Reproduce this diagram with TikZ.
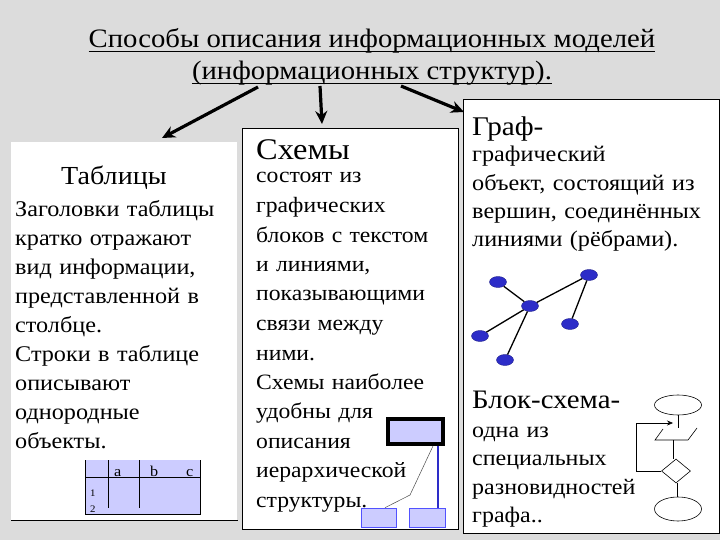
\documentclass[tikz,border=0pt]{standalone}
\usepackage{fontspec}
\setmainfont[FakeStretch=1.08]{Liberation Serif}
\usetikzlibrary{arrows.meta, positioning, shapes.geometric}
\definecolor{bggray}{RGB}{220,220,220}
\definecolor{lavender}{RGB}{204,204,255}
\definecolor{vertexblue}{RGB}{45,45,200}

\begin{document}
\begin{tikzpicture}[
    x=1pt, y=-1pt,
    >={Stealth[length=13pt, width=12pt]},
    panel/.style={fill=white, anchor=north west, inner sep=0pt, line width=0.8pt},
    head/.style={anchor=base west, inner sep=0pt},
    body/.style={anchor=base west, inner sep=0pt, align=left, text width=240pt},
    bigarrow/.style={->, line width=3.2pt},
    vertex/.style={ellipse, fill=vertexblue, draw=vertexblue!70!black, minimum width=17pt, minimum height=11pt, inner sep=0pt},
    block/.style={draw=blue!60!lavender, fill=lavender, inner sep=0pt, line width=0.6pt},
    flow/.style={draw, line width=0.6pt, inner sep=0pt},
]
    % background
    \useasboundingbox (0,0) rectangle (720,540);
    \fill[bggray] (0,0) rectangle (720,540);

    % Title
    \node[anchor=base, inner sep=0pt, font=\fontsize{26.6}{30}\selectfont] (t1) at (372,48) {Способы описания информационных моделей};
    \node[anchor=base, inner sep=0pt, font=\fontsize{26.6}{30}\selectfont] (t2) at (372,80) {(информационных структур).};
    \draw[line width=1pt] ([yshift=-4pt]t1.base west) -- ([yshift=-4pt]t1.base east);
    \draw[line width=1pt] ([yshift=-4pt]t2.base west) -- ([yshift=-4pt]t2.base east);

    % Panels
    \node[panel, minimum width=226pt, minimum height=378pt] (pl) at (11,142) {};
    \draw[line width=1pt] (pl.south west) -- (pl.south east);
    \node[panel, draw, minimum width=216pt, minimum height=401pt] (pm) at (242,128) {};
    \node[panel, draw, minimum width=256pt, minimum height=434pt] (pr) at (463,99) {};

    % Arrows from the title
    \coordinate (a1s) at (258,87);
    \coordinate (a1e) at (162,138);
    \coordinate (a2s) at (320,86);
    \coordinate (a2e) at (322,124);
    \coordinate (a3s) at (401,86);
    \coordinate (a3e) at (464,112);
    \draw[bigarrow] (a1s) -- (a1e);
    \draw[bigarrow] (a2s) -- (a2e);
    \draw[bigarrow] (a3s) -- (a3e);

    % Left panel: tables
    \node[head, font=\fontsize{26}{30}\selectfont] (hl) at (61,185) {Таблицы};
    \node[body, font=\fontsize{22.4}{28.9}\selectfont] (bl) at (15,217) {Заголовки таблицы\\кратко отражают\\вид информации,\\представленной в\\столбце.\\Строки в таблице\\описывают\\однородные\\объекты.};

    % small table
    \fill[lavender] (85,460) rectangle (200,514);
    \draw[line width=0.6pt] (85,460) -- (85,514) -- (200,514) -- (200,460);
    \draw[line width=0.6pt] (85,477) -- (200,477);
    \draw[line width=0.6pt] (108,460) -- (108,508);
    \draw[line width=0.6pt] (139,460) -- (139,508);
    \node[head, font=\fontsize{15}{16}\selectfont] (ca) at (114,476) {a};
    \node[head, font=\fontsize{15}{16}\selectfont] (cb) at (150,476) {b};
    \node[head, font=\fontsize{15}{16}\selectfont] (cc) at (186,476) {c};
    \node[head, font=\fontsize{10}{10}\selectfont] (r1) at (90,496) {1};
    \node[head, font=\fontsize{10}{10}\selectfont] (r2) at (90,512) {2};

    % Middle panel: schemes
    \node[head, font=\fontsize{30}{32}\selectfont] (hm) at (256,160) {Схемы};
    \node[body, font=\fontsize{21.9}{29.5}\selectfont] (bm) at (256,183) {состоят из\\графических\\блоков с текстом\\и линиями,\\показывающими\\связи между\\ними.\\Схемы наиболее\\удобны для\\описания\\иерархической\\структуры.};

    % hierarchy sketch
    \node[block, draw=black, line width=4pt, minimum width=55pt, minimum height=25pt] (top) at (415.5,431) {};
    \node[block, minimum width=35pt, minimum height=19pt] (lo1) at (378.5,517.5) {};
    \node[block, minimum width=36pt, minimum height=19pt] (lo2) at (427,517.5) {};
    \draw[vertexblue, line width=1.8pt] (top.south -| 438,0) -- (lo2.north -| 438,0);
    \draw[gray!60!black, line width=0.5pt] (433,446) -- (410,495) -- (lo1.north -| 385,0);

    % Right panel: graph
    \node[head, font=\fontsize{27}{32}\selectfont] (hr) at (472,136) {Граф-};
    \node[body, font=\fontsize{22.4}{28.3}\selectfont] (br) at (472,162) {графический\\объект, состоящий из\\вершин, соединённых\\линиями (рёбрами).};

    \node[vertex] (v1) at (498,282) {};
    \node[vertex] (v2) at (530,306) {};
    \node[vertex] (v3) at (589,275) {};
    \node[vertex] (v4) at (570,324) {};
    \node[vertex] (v5) at (480,336) {};
    \node[vertex] (v6) at (505,360) {};
    \draw[line width=1.3pt] (v1) -- (v2) -- (v3) -- (v4);
    \draw[line width=1.3pt] (v2) -- (v5);
    \draw[line width=1.3pt] (v2) -- (v6);

    % Right panel: flowchart
    \node[head, font=\fontsize{26.7}{28}\selectfont] (hb) at (472,408) {Блок-схема-};
    \node[body, font=\fontsize{22.2}{28.5}\selectfont] (bb) at (472,437) {одна из\\специальных\\разновидностей\\графа..};

    \node[flow, ellipse, minimum width=47pt, minimum height=20pt] (fstart) at (678,405) {};
    \node[flow, diamond, minimum width=29pt, minimum height=24pt] (fcond) at (676,471) {};
    \node[flow, ellipse, minimum width=47pt, minimum height=24pt] (fend) at (678,509) {};
    \coordinate (pbl) at (655,440);
    \coordinate (pbr) at (688,440);
    \draw[line width=0.6pt] (663,429) -- (pbl) -- (pbr) -- (697,428);
    \draw[line width=0.6pt] (fstart.south) -- (678,428);
    \draw[line width=0.6pt] (673,440) -- (fcond.north -| 673,0);
    \draw[line width=0.6pt] (fcond.south -| 677,0) -- (fend.north -| 677,0);
    \draw[line width=0.6pt, -{Stealth[length=6pt, width=5pt]}] (fcond.west) -- (636,471) -- (636,423) -- (673,423);
\end{tikzpicture}
\end{document}
